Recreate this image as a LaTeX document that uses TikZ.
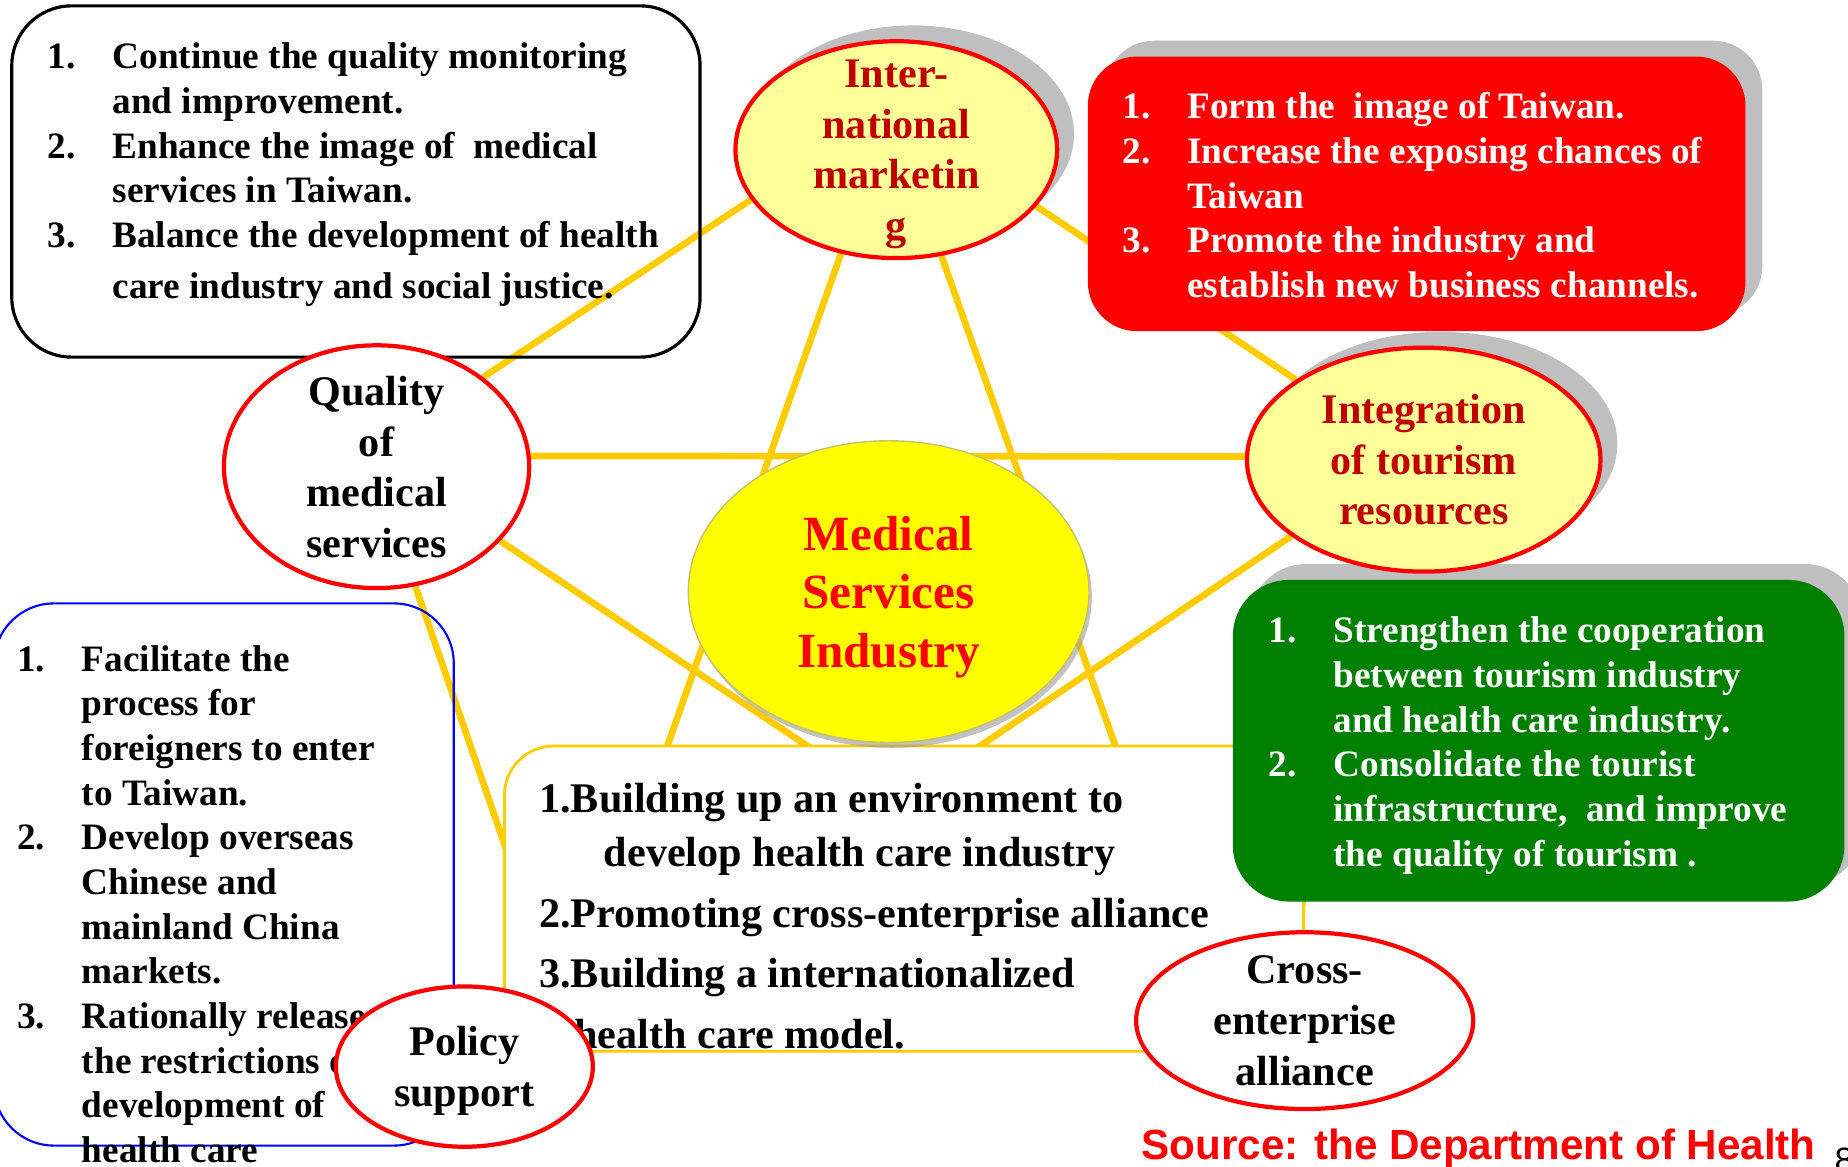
\documentclass[tikz,border=0pt]{standalone}
\usepackage{fontspec}
\setmainfont{Liberation Serif}
\newfontfamily\srcfont{Liberation Sans}
\usepackage{xcolor}
\definecolor{linkgold}{HTML}{FFCC00}
\definecolor{ringred}{HTML}{FF0000}
\definecolor{paleyellow}{HTML}{FFFF99}
\definecolor{coreyellow}{HTML}{FFFF00}
\definecolor{darkred}{HTML}{C00000}
\definecolor{boxgreen}{HTML}{008000}
\definecolor{shadegray}{HTML}{BFBFBF}
\usepackage{tikz}
\usetikzlibrary{shapes.geometric,shadows,backgrounds}
\newcommand{\dpx}{0.3353pt}
\newcommand{\listnum}[1]{\makebox[18.4pt][l]{#1}}
\newcommand{\listgap}{\hspace*{18.4pt}}

\begin{document}
\begin{tikzpicture}[x=0.3353pt,y=-0.3353pt,
    link/.style={linkgold,line width=1.9pt},
    ring/.style={ellipse,draw=ringred,line width=1.2pt,inner xsep=0pt,inner ysep=-14pt,
      text depth=-1.2pt,align=center,font=\fontsize{12}{14.4}\selectfont\bfseries},
    boxframe/.style={rectangle,inner sep=0pt,outer sep=0pt,anchor=north west},
    listtext/.style={anchor=north west,inner sep=0pt,align=left,
      font=\fontsize{10.6}{12.7}\selectfont\bfseries},
    greyshadow/.style={drop shadow={shadow xshift=4.8pt,shadow yshift=4.5pt,fill=shadegray,opacity=1}}]
  \useasboundingbox (0,0) rectangle (1568,990);

  % list boxes
  \node[boxframe,draw=black,line width=0.9pt,rounded corners=17pt,
    minimum width=584*\dpx,minimum height=298*\dpx] (qualbox) at (10,5) {};
  \node[boxframe,draw=blue,line width=0.6pt,rounded corners=17pt,
    minimum width=390*\dpx,minimum height=460*\dpx] (polbox) at (-5,512) {};
  \node[listtext] (qualtext) at (40,36) {\listnum{1.}Continue the quality monitoring\\
    \listgap and improvement.\\
    \listnum{2.}Enhance the image of\ \ medical\\
    \listgap services in Taiwan.\\
    \listnum{3.}Balance the development of health\\[1.7pt]
    \listgap care industry and social justice.};
  \node[listtext] (poltext) at (14,547) {\listnum{1.}Facilitate the\\
    \listgap process for\\
    \listgap foreigners to enter\\
    \listgap to Taiwan.\\
    \listnum{2.}Develop overseas\\
    \listgap Chinese and\\
    \listgap mainland China\\
    \listgap markets.\\
    \listnum{3.}Rationally release\\
    \listgap the restrictions of\\
    \listgap development of\\
    \listgap health care};

  \node[boxframe,draw=linkgold,line width=0.8pt,fill=white,rounded corners=14pt,
    minimum width=678*\dpx,minimum height=259*\dpx] (crossbox) at (428,633) {};
  \node[listtext,font=\fontsize{12}{17.3}\selectfont\bfseries] (crosstext) at (457,664)
    {1.Building up an environment to\\[-2pt]
    \listgap develop health care industry\\
    2.Promoting cross-enterprise alliance\\
    3.Building a internationalized\\
    \hspace*{10pt}health care model.};

  \node[boxframe,fill=red,rounded corners=14pt,greyshadow,
    minimum width=558*\dpx,minimum height=233*\dpx] (mktbox) at (923,48) {};
  \node[listtext,text=white] (mkttext) at (952,78) {\listnum{1.}Form the\ \ image of Taiwan.\\
    \listnum{2.}Increase the exposing chances of\\
    \listgap Taiwan\\
    \listnum{3.}Promote the industry and\\
    \listgap establish new business channels.};

  \node[boxframe,fill=boxgreen,rounded corners=16pt,greyshadow,
    minimum width=519*\dpx,minimum height=273*\dpx] (tourbox) at (1046,492) {};
  \node[listtext,text=white] (tourtext) at (1076,523) {\listnum{1.}Strengthen the cooperation\\
    \listgap between tourism industry\\
    \listgap and health care industry.\\
    \listnum{2.}Consolidate the tourist\\
    \listgap infrastructure,\ \ and improve\\
    \listgap the quality of tourism .};

  % the five fields round the core
  \node[ellipse,fill=coreyellow,draw=olive!50,line width=0.4pt,inner sep=0pt,
    minimum width=340*\dpx,minimum height=256*\dpx,text depth=-1.6pt,
    drop shadow={shadow xshift=0.8pt,shadow yshift=-1.5pt,fill=black!40,opacity=0.6},
    align=center,text=red,font=\fontsize{14}{16.7}\selectfont\bfseries] (msi) at (754,502)
    {Medical\\Services\\Industry};
  \node[ring,fill=white,minimum width=259*\dpx,minimum height=206*\dpx] (qual) at (319.5,396)
    {Quality\\of\\medical\\services};
  \node[ring,fill=paleyellow,text=darkred,greyshadow,text depth=-1.6pt,
    minimum width=273*\dpx,minimum height=184*\dpx]
    (intl) at (760.5,127) {Inter-\\national\\marketin\\g};
  \node[ring,fill=paleyellow,text=darkred,greyshadow,minimum width=300*\dpx,minimum height=190*\dpx]
    (integ) at (1208,390) {Integration\\of tourism\\resources};
  \node[ring,fill=white,minimum width=218*\dpx,minimum height=136*\dpx] (policy) at (394,905)
    {Policy\\support};
  \node[ring,fill=white,minimum width=286*\dpx,minimum height=150*\dpx] (cross) at (1107,866)
    {Cross-\\enterprise\\alliance};

  \node[anchor=base west,inner sep=0pt,text=red,font=\srcfont\fontsize{12}{14}\selectfont\bfseries]
    (source) at (968,984) {Source: the Department of Health};
  \node[anchor=base west,inner sep=0pt,font=\srcfont\fontsize{10}{12}\selectfont] (pagenum) at (1556,995) {8};

  \begin{pgfonlayer}{background}
    \draw[link] (qual.40) -- (intl.199);
    \draw[link] (intl.338) -- (integ.148);
    \draw[link] (qual.4) -- (integ.179);
    \draw[link] (intl.242) -- (policy.24);
    \draw[link] (intl.293) -- (cross.150);
    \draw[link] (qual.329) -- (cross.164);
    \draw[link] (integ.210) -- (policy.23);
    \draw[link] (qual.288) -- (policy.29);
    \draw[link] (integ.244) -- (cross.95);
  \end{pgfonlayer}
\end{tikzpicture}
\end{document}
